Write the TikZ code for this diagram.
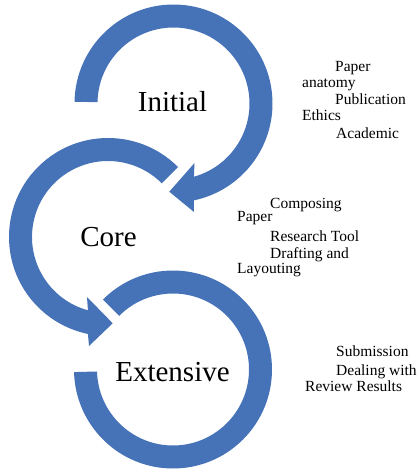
\documentclass[tikz,border=0pt]{standalone}
\usepackage{fontspec}
\setmainfont{Liberation Serif}
\usetikzlibrary{calc}
\definecolor{ringblue}{RGB}{70,114,184}
\begin{document}
\begin{tikzpicture}[x=1pt,y=1pt,
  ring/.style={fill=ringblue},
  stage/.style={font=\fontsize{29}{34}\selectfont, inner sep=0pt, anchor=base},
  topic/.style={font=\fontsize{15.5}{18}\selectfont, inner sep=0pt, anchor=base west}]
\useasboundingbox (0,0) rectangle (419,-469);
% ring centres
\coordinate (c1) at (173.5,-103.5);
\coordinate (c2) at (108,-237);
\coordinate (c3) at (173,-369.5);
% first ring: clockwise from the left, ending in an arrow head
\fill[ring] ($(c1)+(179:99)$) arc[start angle=179, end angle=-78.1, radius=99]
  -- (194,-212) -- (169.3,-191.7) -- (194.5,-163)
  -- ($(c1)+(-74.4:76)$) arc[start angle=-74.4, end angle=179, radius=76] -- cycle;
% second ring: counter-clockwise from the upper right, ending in an arrow head
\fill[ring] ($(c2)+(45:99)$) arc[start angle=45, end angle=258.3, radius=99]
  -- (89,-346) -- (112.7,-323.3) -- (87,-297)
  -- ($(c2)+(254.7:76)$) arc[start angle=254.7, end angle=45, radius=76] -- cycle;
% third ring: clockwise from the upper left, open end on the left
\fill[ring] ($(c3)+(135:99)$) arc[start angle=135, end angle=-178.5, radius=99]
  -- ($(c3)+(-178.5:76)$) arc[start angle=-178.5, end angle=135, radius=76] -- cycle;
% stage names
\node[stage] (initial) at (172.5,-111.7) {Initial};
\node[stage] (core) at (108.5,-246.7) {Core};
\node[stage] (extensive) at (172.5,-381.7) {Extensive};
% topics of the first stage
\node[topic] (t1a) at (335,-71.7) {Paper};
\node[topic] (t1b) at (302,-87) {anatomy};
\node[topic] (t1c) at (335,-104) {Publication};
\node[topic] (t1d) at (302,-120) {Ethics};
\node[topic] (t1e) at (336,-138) {Academic};
% topics of the second stage
\node[topic] (t2a) at (270,-208) {Composing};
\node[topic] (t2b) at (237,-221.7) {Paper};
\node[topic] (t2c) at (270,-241.7) {Research Tool};
\node[topic] (t2d) at (270,-258) {Drafting and};
\node[topic] (t2e) at (237,-273) {Layouting};
% topics of the third stage
\node[topic] (t3a) at (336,-356.7) {Submission};
\node[topic] (t3b) at (336,-375) {Dealing with};
\node[topic] (t3c) at (305,-391.7) {Review Results};
\end{tikzpicture}
\end{document}
